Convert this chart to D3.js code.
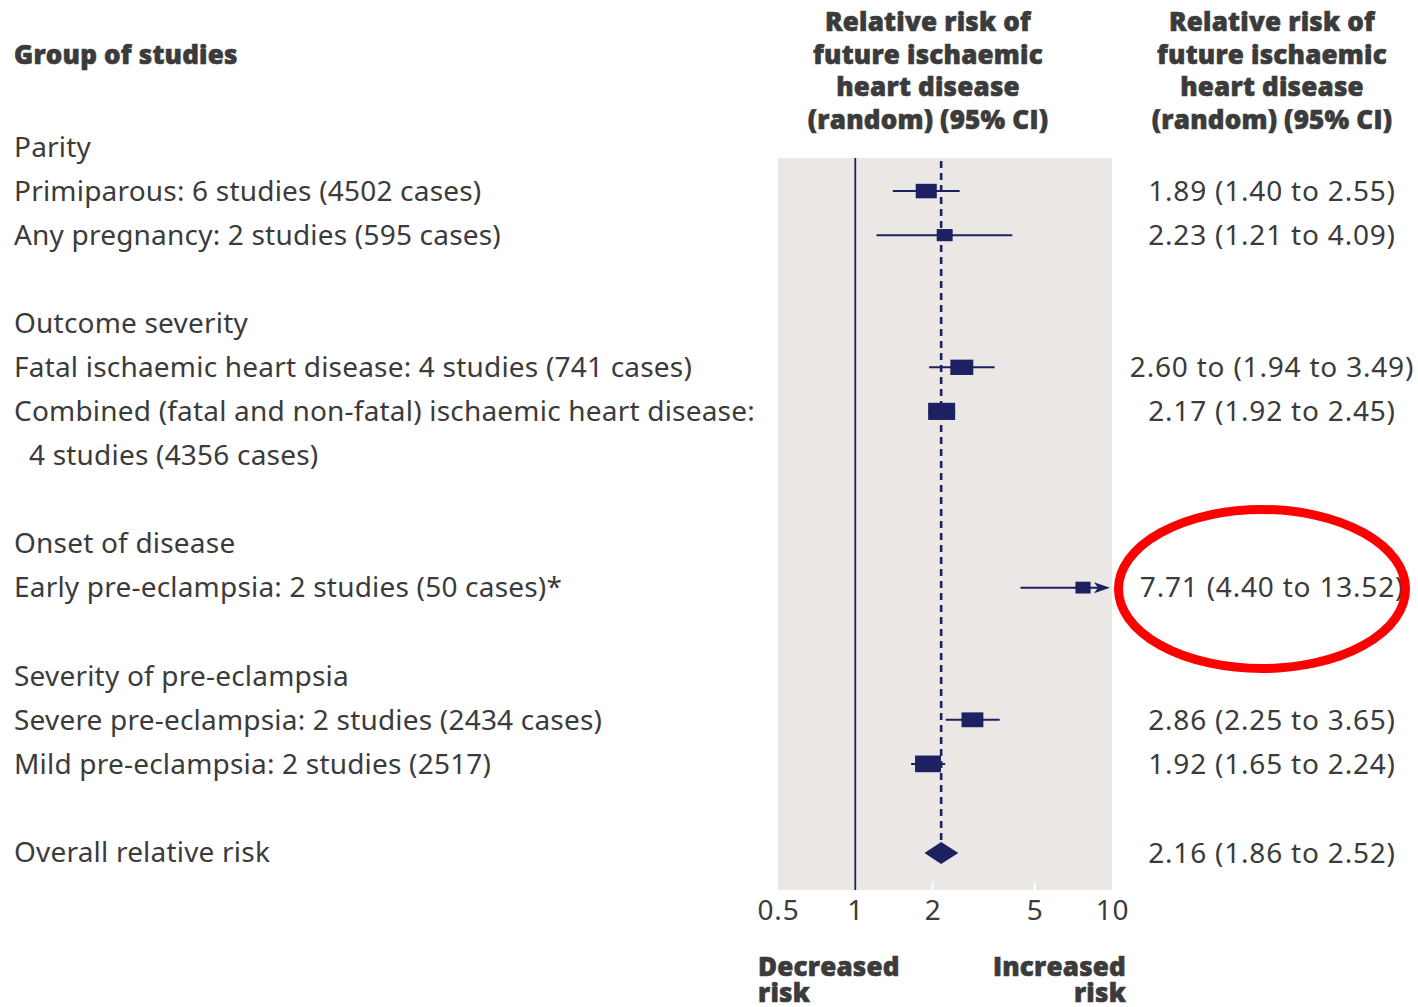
<!DOCTYPE html>
<html>
<head>
<meta charset="utf-8">
<script src="https://cdn.jsdelivr.net/npm/d3@7"></script>
<style>
  html, body { margin: 0; padding: 0; background: #fff; }
  svg text { font-family: "Noto Sans", "Open Sans", sans-serif; fill: #3b3b3b; }
  .body { font-size: 28px; letter-spacing: 0.2px; }
  .num { font-size: 28px; letter-spacing: 0.8px; }
  .bold { font-family: "Open Sans", "Noto Sans", sans-serif; font-weight: 800; font-size: 26px;
          stroke: #3b3b3b; stroke-width: 0.6px; letter-spacing: 0.2px; }
</style>
</head>
<body>
<svg id="chart" width="1418" height="1007"></svg>
<script>
// Subgroup headings and the studies listed under each
const groupHeadings = ["Parity", "Outcome severity", "Onset of disease", "Severity of pre-eclampsia"];
const studyLabels = [
  ["Primiparous: 6 studies (4502 cases)"],
  ["Any pregnancy: 2 studies (595 cases)"],
  ["Fatal ischaemic heart disease: 4 studies (741 cases)"],
  ["Combined (fatal and non-fatal) ischaemic heart disease:", "4 studies (4356 cases)"],
  ["Early pre-eclampsia: 2 studies (50 cases)*"],
  ["Severe pre-eclampsia: 2 studies (2434 cases)"],
  ["Mild pre-eclampsia: 2 studies (2517)"]
];
const studyGroup = [0, 0, 1, 1, 2, 3, 3];

// Relative risks with 95% confidence limits
const rr    = [1.89, 2.23, 2.60, 2.17, 7.71, 2.86, 1.92];
const lower = [1.40, 1.21, 1.94, 1.92, 4.40, 2.25, 1.65];
const upper = [2.55, 4.09, 3.49, 2.45, 13.52, 3.65, 2.24];
const weights = [7.8, 5.9, 8.5, 10, 5.6, 8.1, 9.6];
const ciLabels = [
  "1.89 (1.40 to 2.55)",
  "2.23 (1.21 to 4.09)",
  "2.60 to (1.94 to 3.49)",
  "2.17 (1.92 to 2.45)",
  "7.71 (4.40 to 13.52)",
  "2.86 (2.25 to 3.65)",
  "1.92 (1.65 to 2.24)"
];

// Pooled estimate
const overallLabel = "Overall relative risk";
const overall = { rr: 2.16, lower: 1.86, upper: 2.52 };
const overallText = "2.16 (1.86 to 2.52)";

const tickValues = [0.5, 1, 2, 5, 10];
const tickLabels = ["0.5", "1", "2", "5", "10"];
const headerLines = ["Relative risk of", "future ischaemic", "heart disease", "(random) (95% CI)"];
const columnTitle = "Group of studies";
const favourLabels = [["Decreased", "risk"], ["Increased", "risk"]];

const navy = "#1d2162";
const svg = d3.select("#chart");

// Build the row sequence: heading, studies, blank spacer between groups
const rows = [];
groupHeadings.forEach((g, gi) => {
  if (gi > 0) rows.push({ type: "blank" });
  rows.push({ type: "heading", text: g });
  studyGroup.forEach((sg, si) => {
    if (sg !== gi) return;
    studyLabels[si].forEach((line, li) => {
      rows.push(li === 0 ? { type: "study", text: line, idx: si } : { type: "cont", text: line });
    });
  });
});
rows.push({ type: "blank" });
rows.push({ type: "overall", text: overallLabel });

const y = d3.scalePoint().domain(d3.range(rows.length)).range([147, 852]);
const x = d3.scaleLog().domain([0.5, 10]).range([778, 1112]);
const boxW = d3.scaleLinear().domain([0, 10]).range([0, 27]);

// Plot background panel
const panelTop = 158, panelBottom = 890;
svg.append("rect")
  .attr("x", x(0.5)).attr("y", panelTop)
  .attr("width", x(10) - x(0.5)).attr("height", panelBottom - panelTop)
  .attr("fill", "#ebe7e4");

// Small white ticks along the bottom of the panel
svg.append("g").selectAll("line")
  .data(tickValues.filter(v => v === 2 || v === 5))
  .join("line")
  .attr("x1", d => x(d)).attr("x2", d => x(d))
  .attr("y1", panelBottom - 7).attr("y2", panelBottom)
  .attr("stroke", "#fff").attr("stroke-width", 2);

// Line of no effect
svg.append("line")
  .attr("x1", x(1)).attr("x2", x(1))
  .attr("y1", panelTop).attr("y2", panelBottom)
  .attr("stroke", navy).attr("stroke-width", 1.8);

// Dashed line at the pooled estimate
svg.append("line")
  .attr("x1", x(overall.rr)).attr("x2", x(overall.rr))
  .attr("y1", panelTop + 3).attr("y2", y(rows.length - 1) - 9)
  .attr("stroke", navy).attr("stroke-width", 2.6)
  .attr("stroke-dasharray", "7,5");

// Left-hand labels
const labelG = svg.append("g");
rows.forEach((r, i) => {
  if (r.type === "blank") return;
  labelG.append("text")
    .attr("class", "body")
    .attr("x", r.type === "cont" ? 29 : 14)
    .attr("y", y(i))
    .attr("dy", "0.35em")
    .text(r.text);
});

// Study estimates
const studyRows = rows.map((r, i) => ({ ...r, row: i })).filter(r => r.type === "study");
const marks = svg.append("g");
studyRows.forEach(r => {
  const k = r.idx;
  const cy = y(r.row);
  const hi = Math.min(upper[k], 10);
  const clipped = upper[k] > 10;
  marks.append("line")
    .attr("x1", x(lower[k])).attr("x2", clipped ? x(hi) - 14 : x(hi))
    .attr("y1", cy).attr("y2", cy)
    .attr("stroke", navy).attr("stroke-width", 2);
  if (clipped) {
    marks.append("path")
      .attr("d", `M${x(hi) - 18},${cy - 5.5} L${x(hi) - 2},${cy} L${x(hi) - 18},${cy + 5.5} L${x(hi) - 14},${cy} Z`)
      .attr("fill", navy);
  }
  const w = boxW(weights[k]);
  const h = 0.45 * w + 5;
  marks.append("rect")
    .attr("x", x(rr[k]) - w / 2).attr("y", cy - h / 2)
    .attr("width", w).attr("height", h)
    .attr("fill", navy);
  svg.append("text")
    .attr("class", "num")
    .attr("x", 1272).attr("y", cy)
    .attr("dy", "0.35em")
    .attr("text-anchor", "middle")
    .text(ciLabels[k]);
});

// Pooled diamond
const oy = y(rows.length - 1) + 1;
svg.append("path")
  .attr("d", `M${x(overall.lower)},${oy} L${x(overall.rr)},${oy - 11} L${x(overall.upper)},${oy} L${x(overall.rr)},${oy + 11} Z`)
  .attr("fill", navy);
svg.append("text")
  .attr("class", "num")
  .attr("x", 1272).attr("y", oy)
  .attr("dy", "0.35em")
  .attr("text-anchor", "middle")
  .text(overallText);

// Axis tick labels
const axis = d3.axisBottom(x).tickValues(tickValues).tickFormat((d, i) => tickLabels[i]).tickSize(0).tickPadding(0);
const axisG = svg.append("g").attr("transform", `translate(0, ${panelBottom})`).call(axis);
axisG.select(".domain").remove();
axisG.selectAll("text")
  .attr("class", "num")
  .attr("y", 20).attr("dy", "0.35em")
  .attr("font-size", null)
  .attr("font-family", null)
  .attr("fill", null);

// Column headings
svg.append("text").attr("class", "bold")
  .attr("x", 14).attr("y", 64).text(columnTitle);
[928, 1272].forEach(cx => {
  headerLines.forEach((line, i) => {
    svg.append("text").attr("class", "bold")
      .attr("x", cx).attr("y", 31 + i * 32.7)
      .attr("text-anchor", "middle")
      .text(line);
  });
});

// Direction labels under the axis, two lines each
[[758, "start"], [1126, "end"]].forEach(([lx, anchor], k) => {
  const t = svg.append("text").attr("class", "bold")
    .attr("x", lx).attr("y", 976).attr("text-anchor", anchor);
  favourLabels[k].forEach((line, i) => {
    t.append("tspan").attr("x", lx).attr("dy", i === 0 ? 0 : 26).text(line);
  });
});

// Highlight ring around the early pre-eclampsia estimate
svg.append("ellipse")
  .attr("cx", 1262).attr("cy", 589)
  .attr("rx", 143.5).attr("ry", 79.5)
  .attr("fill", "none")
  .attr("stroke", "#ff0000")
  .attr("stroke-width", 9);
</script>
</body>
</html>
